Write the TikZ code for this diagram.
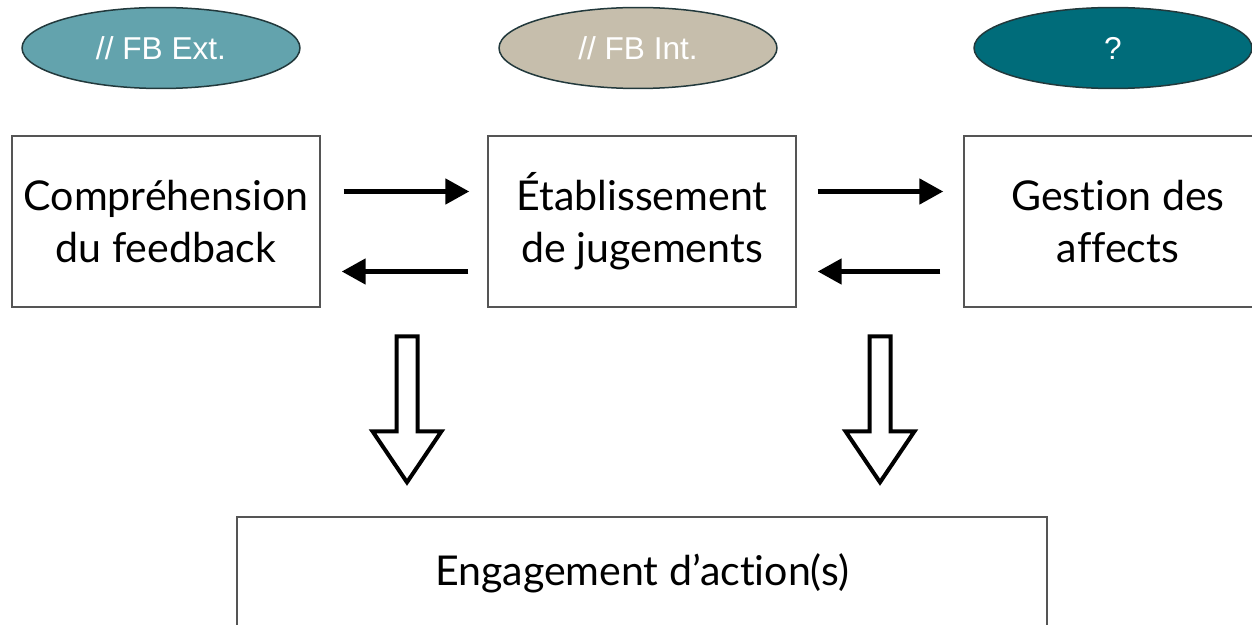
\documentclass[tikz,border=0pt]{standalone}
\usepackage{fontspec}
\setmainfont{Lato}[Ligatures=NoCommon]
\newfontfamily\arialfont{Liberation Sans}
\usetikzlibrary{positioning}
\usetikzlibrary{calc}
\usetikzlibrary{arrows.meta}
\usetikzlibrary{shapes.geometric}

\definecolor{fbext}{HTML}{63A3AD}
\definecolor{fbint}{HTML}{C6BEAC}
\definecolor{fbnone}{HTML}{006C7A}
\definecolor{rim}{HTML}{22393C}
\definecolor{boxline}{HTML}{555555}

\tikzset{
  tag/.style={ellipse, draw=rim, line width=0.03cm, minimum width=5.56cm,
    minimum height=1.62cm, inner sep=0pt, text=white, yshift=-0.04cm,
    font=\arialfont\fontsize{18}{20}\selectfont},
  stage/.style={rectangle, draw=boxline, line width=0.03cm, minimum width=6.16cm,
    minimum height=3.42cm, align=center, font=\fontsize{23.4}{29.6}\selectfont},
  flow/.style={line width=0.1cm, -{Triangle[length=0.48cm,width=0.5cm]}},
  hollow/.style={draw=black, line width=0.08cm, fill=white, line join=miter},
}

\begin{document}
\begin{tikzpicture}[x=0.02cm,y=-0.02cm]

  \useasboundingbox (0,0) rectangle (1252,625);

  % feedback tags
  \node[tag, fill=fbext]  (ext) at (161,46)  {// FB Ext.};
  \node[tag, fill=fbint]  (int) at (638,46)  {// FB Int.};
  \node[tag, fill=fbnone] (unk) at (1113,46) {?};

  % stages
  \node[stage] (comp) at (166,221.5)  {Compréhension\\du feedback};
  \node[stage] (jug)  at (642,221.5)  {Établissement\\de jugements};
  \node[stage] (aff)  at (1118,221.5) {Gestion des\\affects};

  \node[stage, minimum width=16.2cm, minimum height=2.24cm] (act) at (642,573)
    {Engagement d’action(s)};

  % back and forth
  \draw[flow] ($(comp.east)+(23,-30)$) -- ($(jug.west)+(-18,-30)$);
  \draw[flow] ($(jug.west)+(-19,50)$)  -- ($(comp.east)+(21,50)$);
  \draw[flow] ($(jug.east)+(21,-30)$)  -- ($(aff.west)+(-20,-30)$);
  \draw[flow] ($(aff.west)+(-23,50)$)  -- ($(jug.east)+(21,50)$);

  % towards action
  \coordinate (tipA) at ($(act.north)+(-235,-34)$);
  \coordinate (tipB) at ($(act.north)+(238,-34)$);

  \draw[hollow] (tipA) -- ++(-34.5,-51) -- ++(24,0) -- ++(0,-95) -- ++(21,0)
    -- ++(0,95) -- ++(24,0) -- cycle;
  \draw[hollow] (tipB) -- ++(-34.5,-51) -- ++(24,0) -- ++(0,-95) -- ++(21,0)
    -- ++(0,95) -- ++(24,0) -- cycle;

\end{tikzpicture}
\end{document}
